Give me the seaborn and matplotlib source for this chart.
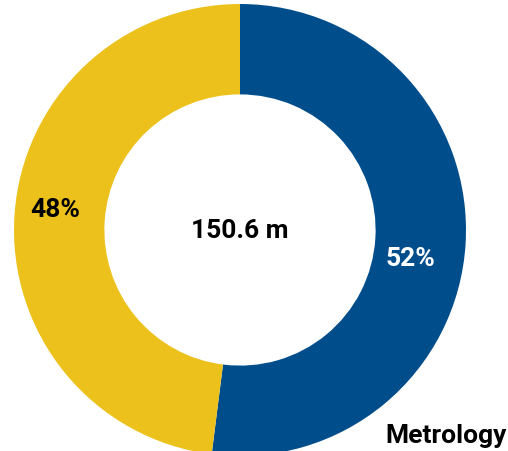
import matplotlib
matplotlib.use("Agg")
import matplotlib.pyplot as plt
import seaborn as sns

# Donut data
categories = ["Metrology", "Other"]
shares = [52, 48]
colors = ["#004D8C", "#EDC11C"]
total_label = "150.6 m"
legend_label = "Metrology"

sns.set_theme(style="white")
plt.rcParams["font.family"] = ["Roboto", "DejaVu Sans"]

W, H, DPI = 508, 452, 100
fig = plt.figure(figsize=(W / DPI, H / DPI), dpi=DPI)
ax = fig.add_axes([0, 0, 1, 1])

wedges, _ = ax.pie(
    shares,
    colors=colors,
    startangle=90,
    counterclock=False,
    radius=1.0,
    wedgeprops=dict(width=0.40, linewidth=0),
)

# Pixel frame: ring centre at (240, 231), outer radius 226 px
cx, cy, R = 240, 231, 226
ax.set_aspect("auto")
ax.set_xlim(-cx / R, (W - cx) / R)
ax.set_ylim((cy - H) / R, cy / R)
ax.axis("off")

def px(x, y):
    return (x - cx) / R, (cy - y) / R

FS = 19

# Percentage labels on the ring
ax.text(*px(410, 259), f"{shares[0]}%", ha="center", va="center",
        fontsize=FS, fontweight="bold", color="white")
ax.text(*px(55, 210), f"{shares[1]}%", ha="center", va="center",
        fontsize=FS, fontweight="bold", color="black")

# Centre total
ax.text(0, 0, total_label, ha="center", va="center",
        fontsize=FS, fontweight="bold", color="black")

# Series name in the corner
ax.text(*px(507, 436), legend_label, ha="right", va="center",
        fontsize=FS, fontweight="bold", color="black")

fig.savefig("out.png", dpi=DPI, facecolor="white")
